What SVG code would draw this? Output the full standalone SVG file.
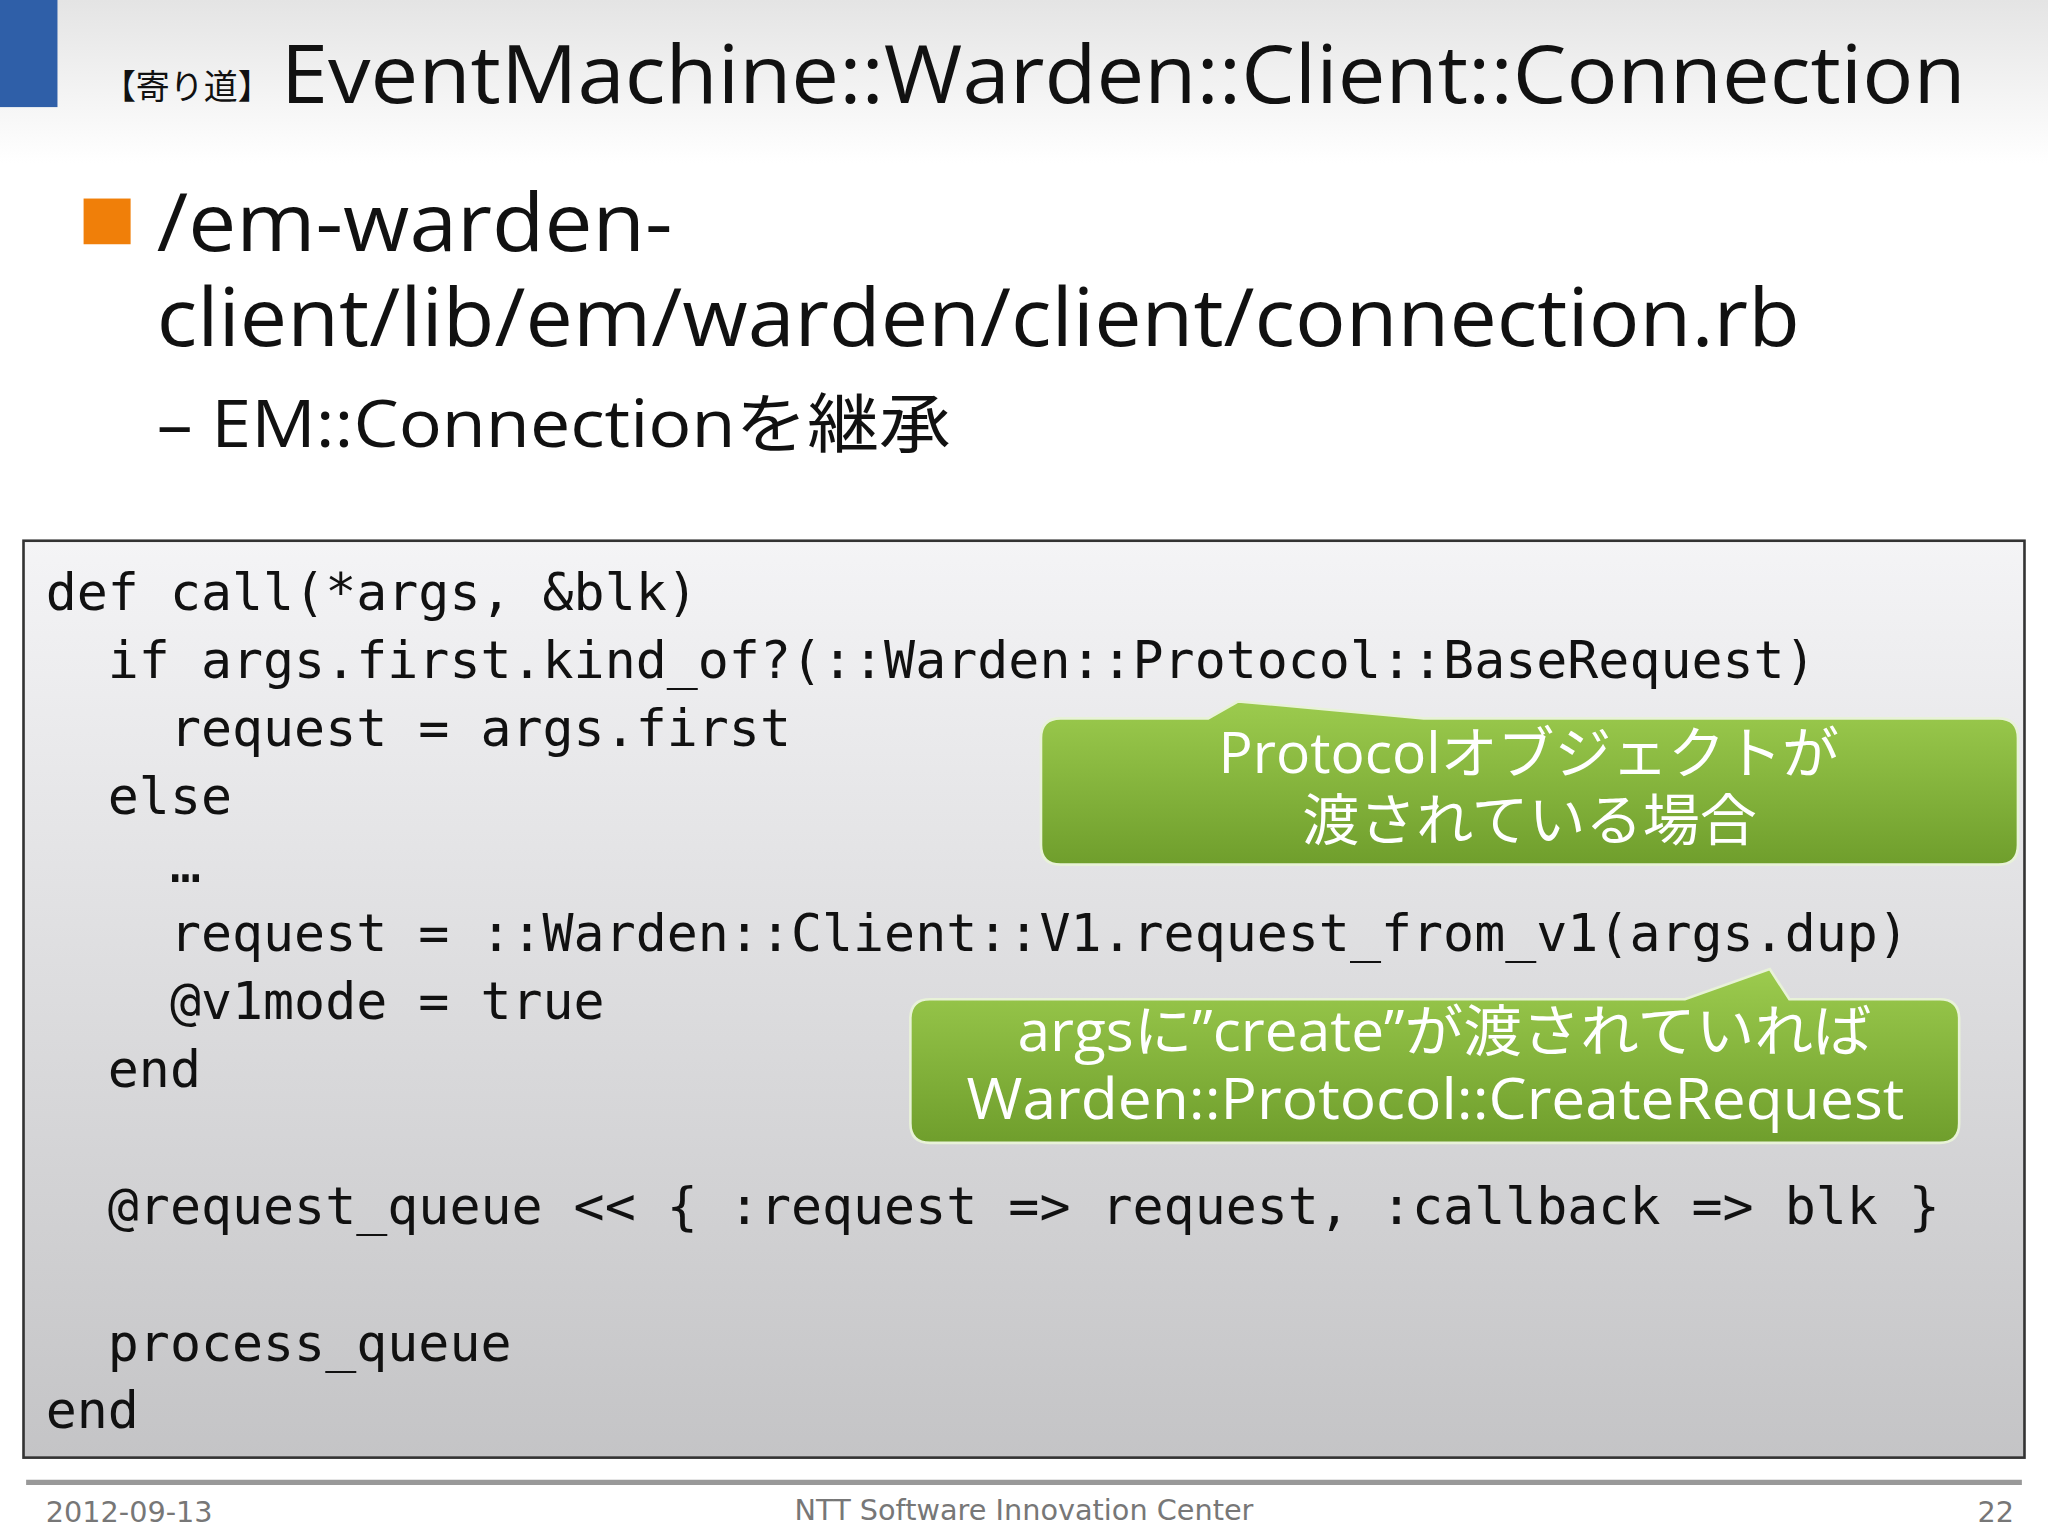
<svg xmlns="http://www.w3.org/2000/svg" width="2048" height="1536" viewBox="0 0 2048 1536">
<defs>
<linearGradient id="hdr" x1="0" y1="0" x2="0" y2="1"><stop offset="0" stop-color="#e4e4e4"/><stop offset="1" stop-color="#ffffff"/></linearGradient>
<linearGradient id="code" x1="0" y1="0" x2="0" y2="1"><stop offset="0" stop-color="#f4f4f6"/><stop offset="1" stop-color="#c4c4c6"/></linearGradient>
<linearGradient id="grn" x1="0" y1="0" x2="0" y2="1"><stop offset="0" stop-color="#9ccb4e"/><stop offset="1" stop-color="#6f9e2c"/></linearGradient>
<style>
.code{font-family:"DejaVu Sans Mono",monospace;font-size:39.5px;fill:#111}
.cw{font-family:"Open Sans","Noto Sans CJK JP",sans-serif;font-size:43px;fill:#fff}
.ft{font-family:"DejaVu Sans","Liberation Sans",sans-serif;font-size:22px;fill:#777}
.body{font-family:"Open Sans","Noto Sans CJK JP",sans-serif;fill:#111}
</style>
</defs>
<rect width="2048" height="1536" fill="#fff"/>
<g transform="scale(1.30612)">
<g id="header">
<rect x="0" y="0" width="1568" height="125" fill="url(#hdr)"/>
<rect x="0" y="0" width="44" height="82" fill="#2f5fa8"/>
<text x="78" y="76" class="body" font-size="26" textLength="130" lengthAdjust="spacingAndGlyphs">【寄り道】</text>
<text x="215" y="79" class="body" font-size="62" textLength="1290" lengthAdjust="spacingAndGlyphs">EventMachine::Warden::Client::Connection</text>
</g>
<g id="bullets">
<rect x="64" y="152" width="36" height="35" fill="#f07f09"/>
<text x="120" y="192" class="body" font-size="62" textLength="395" lengthAdjust="spacingAndGlyphs">/em-warden-</text>
<text x="120" y="265" class="body" font-size="62" textLength="1258" lengthAdjust="spacingAndGlyphs">client/lib/em/warden/client/connection.rb</text>
<text x="120" y="342" class="body" font-size="50" textLength="608" lengthAdjust="spacingAndGlyphs">– EM::Connectionを継承</text>
</g>
<g id="codebox">
<rect x="18" y="414" width="1532" height="702" fill="url(#code)" stroke="#333" stroke-width="2"/>
<text class="code" xml:space="preserve"><tspan x="35" y="467">def call(*args, &amp;blk)</tspan><tspan x="35" y="519">  if args.first.kind_of?(::Warden::Protocol::BaseRequest)</tspan><tspan x="35" y="571">    request = args.first</tspan><tspan x="35" y="623">  else</tspan><tspan x="35" y="675">    …</tspan><tspan x="35" y="728">    request = ::Warden::Client::V1.request_from_v1(args.dup)</tspan><tspan x="35" y="780">    @v1mode = true</tspan><tspan x="35" y="832">  end</tspan><tspan x="35" y="937">  @request_queue &lt;&lt; { :request =&gt; request, :callback =&gt; blk }</tspan><tspan x="35" y="1042">  process_queue</tspan><tspan x="35" y="1093">end</tspan></text>
</g>
<g id="callout1">
<path d="M812,550 L925,550 L948,537 L1090,550 L1530,550 Q1545,550 1545,565 L1545,647 Q1545,662 1530,662 L812,662 Q797,662 797,647 L797,565 Q797,550 812,550 Z" fill="url(#grn)" stroke="#e8f2d8" stroke-width="2"/>
<text x="933" y="592" class="cw" textLength="475" lengthAdjust="spacingAndGlyphs">Protocolオブジェクトが</text>
<text x="997" y="643" class="cw" textLength="348" lengthAdjust="spacingAndGlyphs">渡されている場合</text>
</g>
<g id="callout2">
<path d="M712,765 L1290,765 L1355,742 L1370,765 L1485,765 Q1500,765 1500,780 L1500,860 Q1500,875 1485,875 L712,875 Q697,875 697,860 L697,780 Q697,765 712,765 Z" fill="url(#grn)" stroke="#e8f2d8" stroke-width="2"/>
<text x="779" y="805" class="cw" textLength="654" lengthAdjust="spacingAndGlyphs">argsに”create”が渡されていれば</text>
<text x="740" y="857" class="cw" textLength="718" lengthAdjust="spacingAndGlyphs">Warden::Protocol::CreateRequest</text>
</g>
<g id="footer">
<line x1="20" y1="1135" x2="1548" y2="1135" stroke="#999" stroke-width="4"/>
<text x="35" y="1165" class="ft">2012-09-13</text>
<text x="784" y="1164" class="ft" text-anchor="middle">NTT Software Innovation Center</text>
<text x="1542" y="1165" class="ft" text-anchor="end">22</text>
</g>
</g>
</svg>
